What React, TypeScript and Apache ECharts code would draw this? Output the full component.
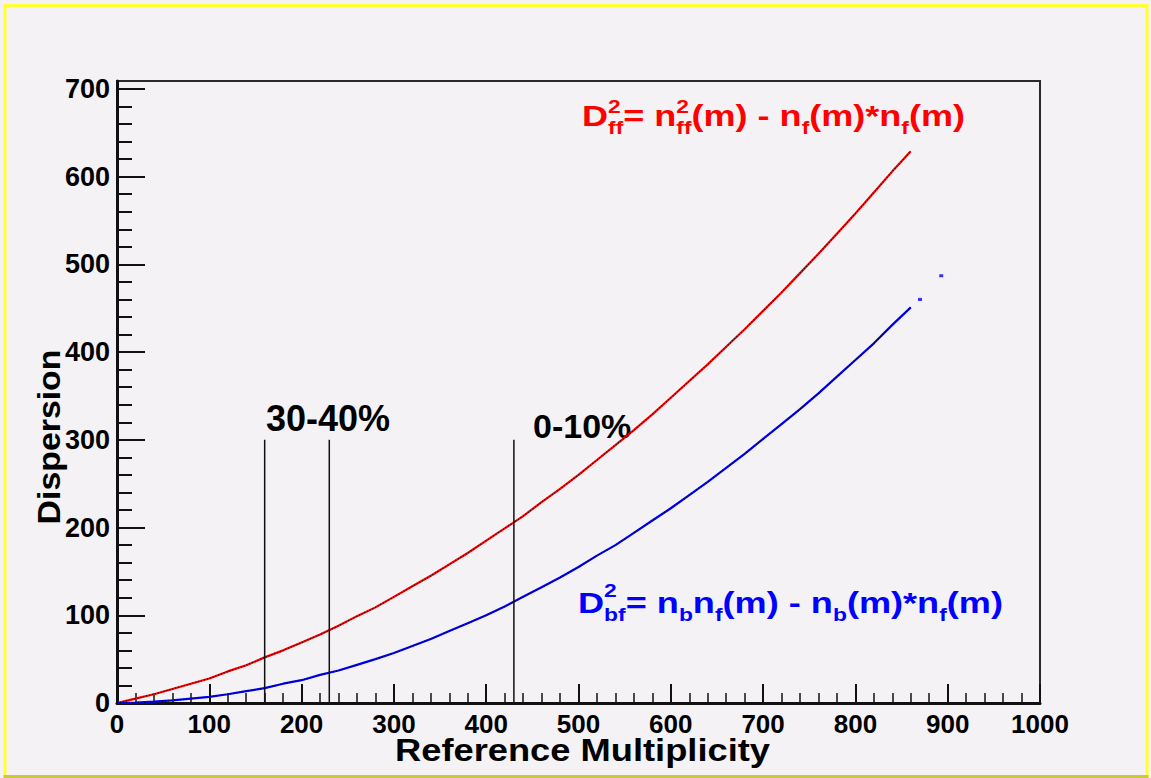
import React, { useEffect, useRef } from "react";
import * as echarts from "echarts";

// Reference multiplicity (x) and dispersion values
const multiplicity = [0, 20, 40, 60, 80, 100, 120, 140, 160, 180, 200, 220, 240, 260, 280, 300, 320, 340, 360, 380, 400, 420, 440, 460, 480, 500, 520, 540, 560, 580, 600, 620, 640, 660, 680, 700, 720, 740, 760, 780, 800, 820, 840, 860];
const dispersionFF = [0, 5, 10, 16, 22, 28, 36, 43, 52, 60, 69, 78, 88, 99, 109, 121, 133, 145, 158, 171, 185, 199, 213, 229, 244, 260, 277, 294, 311, 329, 348, 367, 386, 406, 426, 447, 468, 490, 512, 535, 558, 582, 606, 629];
const dispersionBF = [0, 0.5, 1.5, 3, 5, 7, 10, 13.5, 17, 22, 26, 32, 37, 43.5, 50, 57, 65, 73, 82, 91, 100, 110, 121, 132, 143, 155, 168, 180, 194, 208, 222, 237, 252, 268, 284, 301, 318, 335, 353, 372, 391, 410, 431, 451];
const bfTailX = [870, 893];
const bfTailY = [460, 487];

// Centrality cut lines
const cutPositions = [160, 230, 430];
const cutTop = 300;
const cutLabels = ["30-40%", "0-10%"];

// Axis ticks
const xMin = 0;
const xMax = 1000;
const xInterval = 100;
const yMin = 0;
const yMax = 709;
const yMajorTicks = [0, 100, 200, 300, 400, 500, 600, 700];
const yMinorTicks = [20, 40, 60, 80, 120, 140, 160, 180, 220, 240, 260, 280, 320, 340, 360, 380, 420, 440, 460, 480, 520, 540, 560, 580, 620, 640, 660, 680];

const xTitle = "Reference Multiplicity";
const yTitle = "Dispersion";

const FONT = '"Liberation Sans", Arial, Helvetica, sans-serif';
const BG = "#f5f2f6";
const RED = "#ff0000";
const BLUE = "#0000ff";

type Seg = { m?: string; sub?: string; sup?: string };

const redFormula: Seg[] = [
  { m: "D" }, { sub: "ff", sup: "2" }, { m: "= n" }, { sub: "ff", sup: "2" },
  { m: "(m) - n" }, { sub: "f" }, { m: "(m)*n" }, { sub: "f" }, { m: "(m)" },
];
const blueFormula: Seg[] = [
  { m: "D" }, { sub: "bf", sup: "2" }, { m: "= n" }, { sub: "b" }, { m: "n" }, { sub: "f" },
  { m: "(m) - n" }, { sub: "b" }, { m: "(m)*n" }, { sub: "f" }, { m: "(m)" },
];

let measureCtx: CanvasRenderingContext2D | null = null;
function measure(text: string, size: number): number {
  if (!measureCtx) {
    const c = document.createElement("canvas");
    measureCtx = c.getContext("2d");
  }
  const ctx = measureCtx!;
  ctx.font = `bold ${size}px ${FONT}`;
  return ctx.measureText(text).width;
}

const CENTRAL = 0.31;

function textEl(text: string, x: number, baseline: number, size: number, fill: string, align = "left") {
  return {
    type: "text",
    x,
    y: baseline - CENTRAL * size,
    style: {
      text,
      fill,
      fontSize: size,
      fontWeight: "bold",
      fontFamily: FONT,
      align,
      verticalAlign: "middle",
    },
  };
}

function buildFormula(
  segs: Seg[], color: string, startX: number, baseline: number, targetW: number,
  main: number, script: number, subOff: number, supOff: number
) {
  let cx = 0;
  const children: any[] = [];
  for (const s of segs) {
    if (s.m) {
      children.push(textEl(s.m, cx, baseline, main, color));
      cx += measure(s.m, main);
    } else {
      let w = 0;
      if (s.sub) {
        children.push(textEl(s.sub, cx, baseline + subOff, script, color));
        w = Math.max(w, measure(s.sub, script));
      }
      if (s.sup) {
        children.push(textEl(s.sup, cx, baseline + supOff, script, color));
        w = Math.max(w, measure(s.sup, script));
      }
      cx += w;
    }
  }
  return { type: "group", x: startX, y: 0, scaleX: targetW / cx, children };
}

function stretchedText(text: string, x: number, baseline: number, size: number, targetW: number, align: string, rotation = 0) {
  const w = measure(text, size);
  return {
    type: "text",
    x,
    y: baseline,
    rotation,
    scaleX: targetW / w,
    style: {
      text,
      fill: "#000",
      fontSize: size,
      fontWeight: "bold",
      fontFamily: FONT,
      align,
      verticalAlign: "middle",
    },
  };
}

export default function App() {
  const ref = useRef<HTMLDivElement>(null);

  useEffect(() => {
    if (!ref.current) return;
    const chart = echarts.init(ref.current, undefined, { renderer: "svg" });

    const ffData = multiplicity.map((x, i) => [x, dispersionFF[i]]);
    const bfData = multiplicity.map((x, i) => [x, dispersionBF[i]]);
    const tailData = bfTailX.map((x, i) => [x, bfTailY[i]]);

    const cutSeries = cutPositions.map((c) => ({
      type: "line",
      data: [[c, 0], [c, cutTop]],
      showSymbol: false,
      silent: true,
      lineStyle: { color: "#111", width: 1.5 },
      z: 5,
    }));

    const option: any = {
      animation: false,
      backgroundColor: BG,
      grid: {
        left: 117, right: 111, top: 81, bottom: 75,
        show: true, borderColor: "#2a2a2a", borderWidth: 2, backgroundColor: "transparent",
      },
      xAxis: {
        type: "value",
        min: xMin, max: xMax, interval: xInterval,
        axisLine: { show: true, lineStyle: { color: "#111", width: 3 } },
        axisTick: { show: true, inside: true, length: 19, lineStyle: { color: "#111", width: 2 } },
        minorTick: { show: true, splitNumber: 5, length: 10, lineStyle: { color: "#111", width: 1.5 } },
        axisLabel: {
          color: "#000", fontSize: 26, fontWeight: "bold", fontFamily: FONT, margin: 8,
          formatter: (v: number) => String(v),
        },
        splitLine: { show: false },
      },
      yAxis: [
        {
          type: "value",
          min: yMin, max: yMax,
          axisLine: { show: true, lineStyle: { color: "#111", width: 3 } },
          axisTick: { show: true, inside: true, length: 28, customValues: yMajorTicks, lineStyle: { color: "#111", width: 2 } },
          axisLabel: {
            color: "#000", fontSize: 27, fontWeight: "bold", fontFamily: FONT, margin: 7,
            customValues: yMajorTicks, formatter: (v: number) => String(v),
          },
          splitLine: { show: false },
        },
        {
          type: "value",
          position: "left",
          min: yMin, max: yMax,
          axisLine: { show: false },
          axisTick: { show: true, inside: true, length: 15, customValues: yMinorTicks, lineStyle: { color: "#111", width: 2 } },
          axisLabel: { show: false },
          splitLine: { show: false },
        },
      ],
      series: [
        {
          type: "line", data: ffData, showSymbol: false, silent: true,
          lineStyle: { color: RED, width: 2.2 }, z: 3,
        },
        {
          type: "line", data: ffData, showSymbol: false, silent: true,
          lineStyle: { color: "#000", width: 1.2, type: [1, 2], opacity: 0.85 }, z: 4,
        },
        {
          type: "line", data: bfData, showSymbol: false, silent: true,
          lineStyle: { color: BLUE, width: 2.2 }, z: 3,
        },
        {
          type: "line", data: bfData, showSymbol: false, silent: true,
          lineStyle: { color: "#000", width: 1.2, type: [1, 2], opacity: 0.85 }, z: 4,
        },
        {
          type: "scatter", data: tailData, symbol: "rect", symbolSize: [4, 3], silent: true,
          itemStyle: { color: BLUE }, z: 3,
        },
        ...cutSeries,
      ],
      graphic: [
        {
          type: "rect",
          shape: { x: 5, y: 5.5, width: 1142, height: 771 },
          style: { fill: "none", stroke: "#ffff33", lineWidth: 3 },
          silent: true,
        },
        {
          type: "line",
          shape: { x1: 3.5, y1: 776.5, x2: 1148.5, y2: 776.5 },
          style: { stroke: "#c9c93a", lineWidth: 3 },
          silent: true,
        },
        buildFormula(redFormula, RED, 582, 125, 383, 30, 19, 8, -13),
        buildFormula(blueFormula, BLUE, 578, 611.5, 425, 30, 19, 9, -15),
        textEl(cutLabels[0], 266, 430, 36, "#000"),
        textEl(cutLabels[1], 533, 436.5, 34, "#000"),
        stretchedText(xTitle, 582.5, 760 - CENTRAL * 32, 32, 375, "center"),
        stretchedText(yTitle, 59 - CENTRAL * 31, 437, 31, 175, "center", Math.PI / 2),
      ],
    };

    chart.setOption(option);
    return () => chart.dispose();
  }, []);

  return (
    <div
      ref={ref}
      style={{ position: "fixed", left: 0, top: 0, width: 1151, height: 778 }}
    />
  );
}
